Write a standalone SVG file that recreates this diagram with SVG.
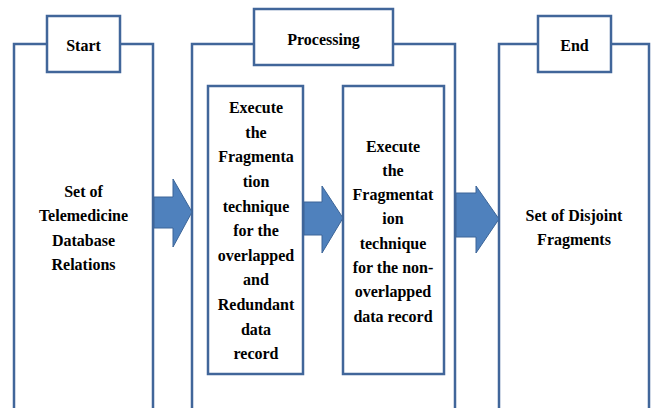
<svg xmlns="http://www.w3.org/2000/svg" width="651" height="408" viewBox="0 0 651 408">
<style>
.f{fill:none;stroke:#41669A;stroke-width:2.5}
.b{fill:#fff;stroke:#41669A;stroke-width:2.5}
.a{fill:#4F81BD;stroke:#3C6598;stroke-width:1}
text{font-family:"Liberation Serif","Times New Roman",serif;font-weight:bold;font-size:16px;fill:#000;text-anchor:middle}
</style>
<rect width="651" height="408" fill="#fff"/>
<g id="start">
<path class="f" d="M14,410 V44 H153 V410"/>
<rect class="b" x="47" y="16" width="73" height="56"/>
<text x="83.5" y="51">Start</text>
<text x="83.5" y="197">Set of</text>
<text x="83.5" y="221">Telemedicine</text>
<text x="83.5" y="246">Database</text>
<text x="83.5" y="270">Relations</text>
</g>
<g id="processing">
<path class="f" d="M192,410 V44 H455 V410"/>
<rect class="b" x="254" y="9" width="139" height="56"/>
<text x="323.5" y="45">Processing</text>
</g>
<g id="step1">
<rect class="b" x="208" y="86" width="95" height="288"/>
<text x="256" y="113">Execute</text>
<text x="256" y="138">the</text>
<text x="256" y="162">Fragmenta</text>
<text x="256" y="187">tion</text>
<text x="256" y="212">technique</text>
<text x="256" y="236">for the</text>
<text x="256" y="261">overlapped</text>
<text x="256" y="285">and</text>
<text x="256" y="310">Redundant</text>
<text x="256" y="335">data</text>
<text x="256" y="359">record</text>
</g>
<g id="step2">
<rect class="b" x="343" y="86" width="101" height="288"/>
<text x="393" y="152">Execute</text>
<text x="393" y="176">the</text>
<text x="393" y="200">Fragmentat</text>
<text x="393" y="224">ion</text>
<text x="393" y="249">technique</text>
<text x="393" y="273">for the non-</text>
<text x="393" y="297">overlapped</text>
<text x="393" y="322">data record</text>
</g>
<g id="end">
<path class="f" d="M499,410 V44 H649 V410"/>
<rect class="b" x="538" y="16" width="73" height="56"/>
<text x="574.5" y="51">End</text>
<text x="574" y="221">Set of Disjoint</text>
<text x="574" y="245">Fragments</text>
</g>
<g id="connectors">
<path class="a" d="M154,197 H173 V179 L192,212 L173,247 V228 H154 Z"/>
<path class="a" d="M304,202 H322 V186 L343,218 L322,253 V235 H304 Z"/>
<path class="a" d="M456,193 H476 V186 L499,219 L476,253 V237 H456 Z"/>
</g>
</svg>
